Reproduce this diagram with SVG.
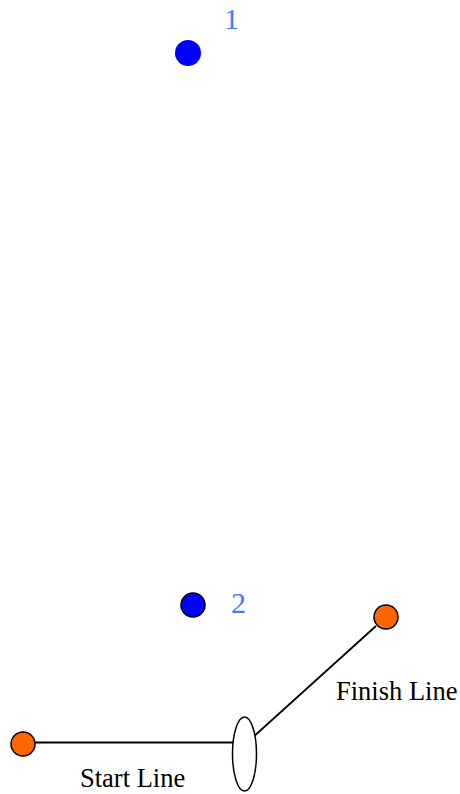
<svg xmlns="http://www.w3.org/2000/svg" width="460" height="794" viewBox="0 0 460 794">
<style>
.num{font-family:"Liberation Serif",serif;font-size:30px;fill:#4477ff}
.lbl{font-family:"Liberation Serif",serif;font-size:26.5px;fill:#000}
.orange{fill:#ff6600;stroke:#000;stroke-width:1.5}
.edge{stroke:#000;stroke-width:1.8;fill:none}
</style>
<rect width="460" height="794" fill="#fff"/>
<g id="connectors">
<line class="edge" x1="35" y1="742.5" x2="233" y2="742.5"/>
<line class="edge" x1="252" y1="738" x2="376" y2="626"/>
</g>
<g id="node1">
<circle cx="188" cy="53" r="13" fill="#0000ff"/>
<text class="num" x="224" y="29">1</text>
</g>
<g id="node2">
<circle cx="193" cy="605" r="12" fill="#0000ff" stroke="#000" stroke-width="1.5"/>
<text class="num" x="231" y="613">2</text>
</g>
<g id="start">
<circle class="orange" cx="23" cy="744" r="12"/>
</g>
<g id="finish">
<circle class="orange" cx="386" cy="617" r="12"/>
</g>
<g id="junction">
<ellipse cx="244.5" cy="754" rx="12" ry="37" fill="#fff" stroke="#000" stroke-width="1.5"/>
</g>
<text class="lbl" x="80" y="787">Start Line</text>
<text class="lbl" x="336" y="700">Finish Line</text>
</svg>
